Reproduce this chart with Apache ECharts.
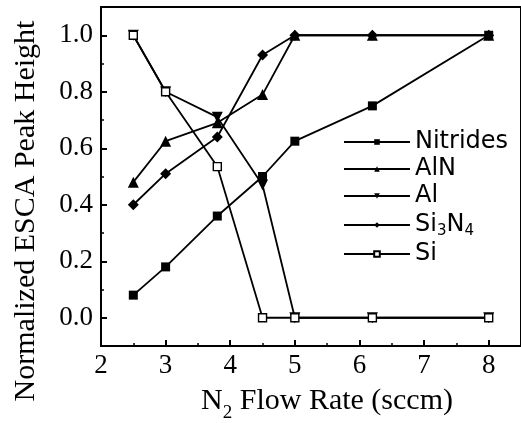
<!DOCTYPE html>
<html>
<head>
<meta charset="utf-8">
<script src="https://cdn.jsdelivr.net/npm/echarts@6/dist/echarts.min.js"></script>
<style>html,body{margin:0;padding:0;background:#fff;}#c{width:521px;height:423px;}</style>
</head>
<body>
<div id="c"></div>
<script>
const flowRates = [2.5, 3, 3.8, 4.5, 5, 6.2, 8];
const nitrides = [0.08, 0.18, 0.36, 0.50, 0.625, 0.75, 1.0];
const aln = [0.48, 0.625, 0.69, 0.79, 1.0, 1.0, 1.0];
const al = [1.0, 0.80, 0.71, 0.47, 0.0, 0.0, 0.0];
const si3n4 = [0.40, 0.51, 0.64, 0.93, 1.0, 1.0, 1.0];
const si = [1.0, 0.80, 0.535, 0.0, 0.0, 0.0, 0.0];
const seriesNames = ['Nitrides', 'AlN', 'Al', 'Si3N4', 'Si'];
const yTickLabels = [0.0, 0.2, 0.4, 0.6, 0.8, 1.0];
const yTitle = 'Normalized ESCA Peak Height';
const xTitle = 'N{sub|2} Flow Rate (sccm)';

const pair = arr => arr.map((v, i) => [flowRates[i], v]);
const serif = 'Liberation Serif';

function mk(name, data, symbol, size, fill) {
  return {
    name: name, type: 'line', data: pair(data), symbol: symbol, symbolSize: size,
    lineStyle: {color: '#000', width: 1.8},
    itemStyle: {color: fill, borderColor: '#000', borderWidth: fill === '#fff' ? 1.4 : 0},
    emphasis: {disabled: true}, animation: false
  };
}

const chart = echarts.init(document.getElementById('c'), null, {renderer: 'canvas'});
chart.setOption({
  animation: false,
  grid: {left: 101, right: -3, top: 7, bottom: 77, show: true, borderColor: '#000', borderWidth: 2, backgroundColor: 'transparent'},
  xAxis: {
    type: 'value', min: 2, max: 8.5, interval: 1,
    axisLine: {show: true, onZero: false, lineStyle: {color: '#000', width: 2}},
    axisTick: {show: true, inside: true, length: 6, lineStyle: {color: '#000', width: 2}},
    minorTick: {show: true, splitNumber: 2, length: 3, lineStyle: {color: '#000', width: 1.5}},
    splitLine: {show: false},
    axisLabel: {showMaxLabel: false, color: '#000', fontFamily: serif, fontSize: 27, margin: 6,
      formatter: v => (Math.abs(v - Math.round(v)) < 1e-6 && v <= 8) ? String(Math.round(v)) : ''}
  },
  yAxis: [{
    type: 'value', min: -0.1, max: 1.1, interval: 0.1,
    axisLine: {show: true, onZero: false, lineStyle: {color: '#000', width: 2}},
    axisTick: {show: true, inside: true, length: 3, lineStyle: {color: '#000', width: 1.5}},
    splitLine: {show: false},
    axisLabel: {show: false}
  }, {
    type: 'value', min: -0.1, max: 1.1, interval: 0.1, position: 'left',
    axisLine: {show: false, onZero: false},
    axisTick: {show: true, inside: true, length: 6, lineStyle: {color: '#000', width: 2}, customValues: yTickLabels},
    splitLine: {show: false},
    axisLabel: {show: true, color: '#000', fontFamily: serif, fontSize: 27, margin: 8, customValues: yTickLabels,
      formatter: v => (Math.abs(v * 10 - Math.round(v * 10)) < 1e-6 && Math.round(v * 10) % 2 === 0 && v > -0.05 && v < 1.05) ? v.toFixed(1) : ''}
  }],
  legend: {
    orient: 'vertical', left: 338, top: 125, itemWidth: 66, itemHeight: 7, itemGap: 3,
    data: seriesNames,
    formatter: n => n === 'Si3N4' ? 'Si{sub|3}N{sub|4}' : n,
    textStyle: {color: '#000', fontFamily: 'DejaVu Sans', fontSize: 24, lineHeight: 24,
      rich: {sub: {fontFamily: 'DejaVu Sans', fontSize: 15, lineHeight: 10, padding: [13, 0, 0, 0]}}},
    inactiveColor: '#000', selectedMode: false
  },
  graphic: [
    {type: 'text', x: 26, y: 211, rotation: Math.PI / 2,
      style: {text: yTitle, fill: '#000', font: '30px "Liberation Serif"', align: 'center', verticalAlign: 'middle'}},
    {type: 'text', x: 327, y: 401,
      style: {text: xTitle, fill: '#000', fontFamily: serif, fontSize: 30, align: 'center', verticalAlign: 'middle',
        rich: {sub: {fontFamily: serif, fontSize: 19, padding: [24, 0, 0, 0]}}}}
  ],
  series: [
    mk('Nitrides', nitrides, 'rect', 9, '#000'),
    mk('AlN', aln, 'triangle', 11, '#000'),
    Object.assign(mk('Al', al, 'triangle', 11, '#000'), {symbolRotate: 180}),
    mk('Si3N4', si3n4, 'diamond', 11, '#000'),
    mk('Si', si, 'rect', 8, '#fff')
  ]
});
</script>
</body>
</html>
